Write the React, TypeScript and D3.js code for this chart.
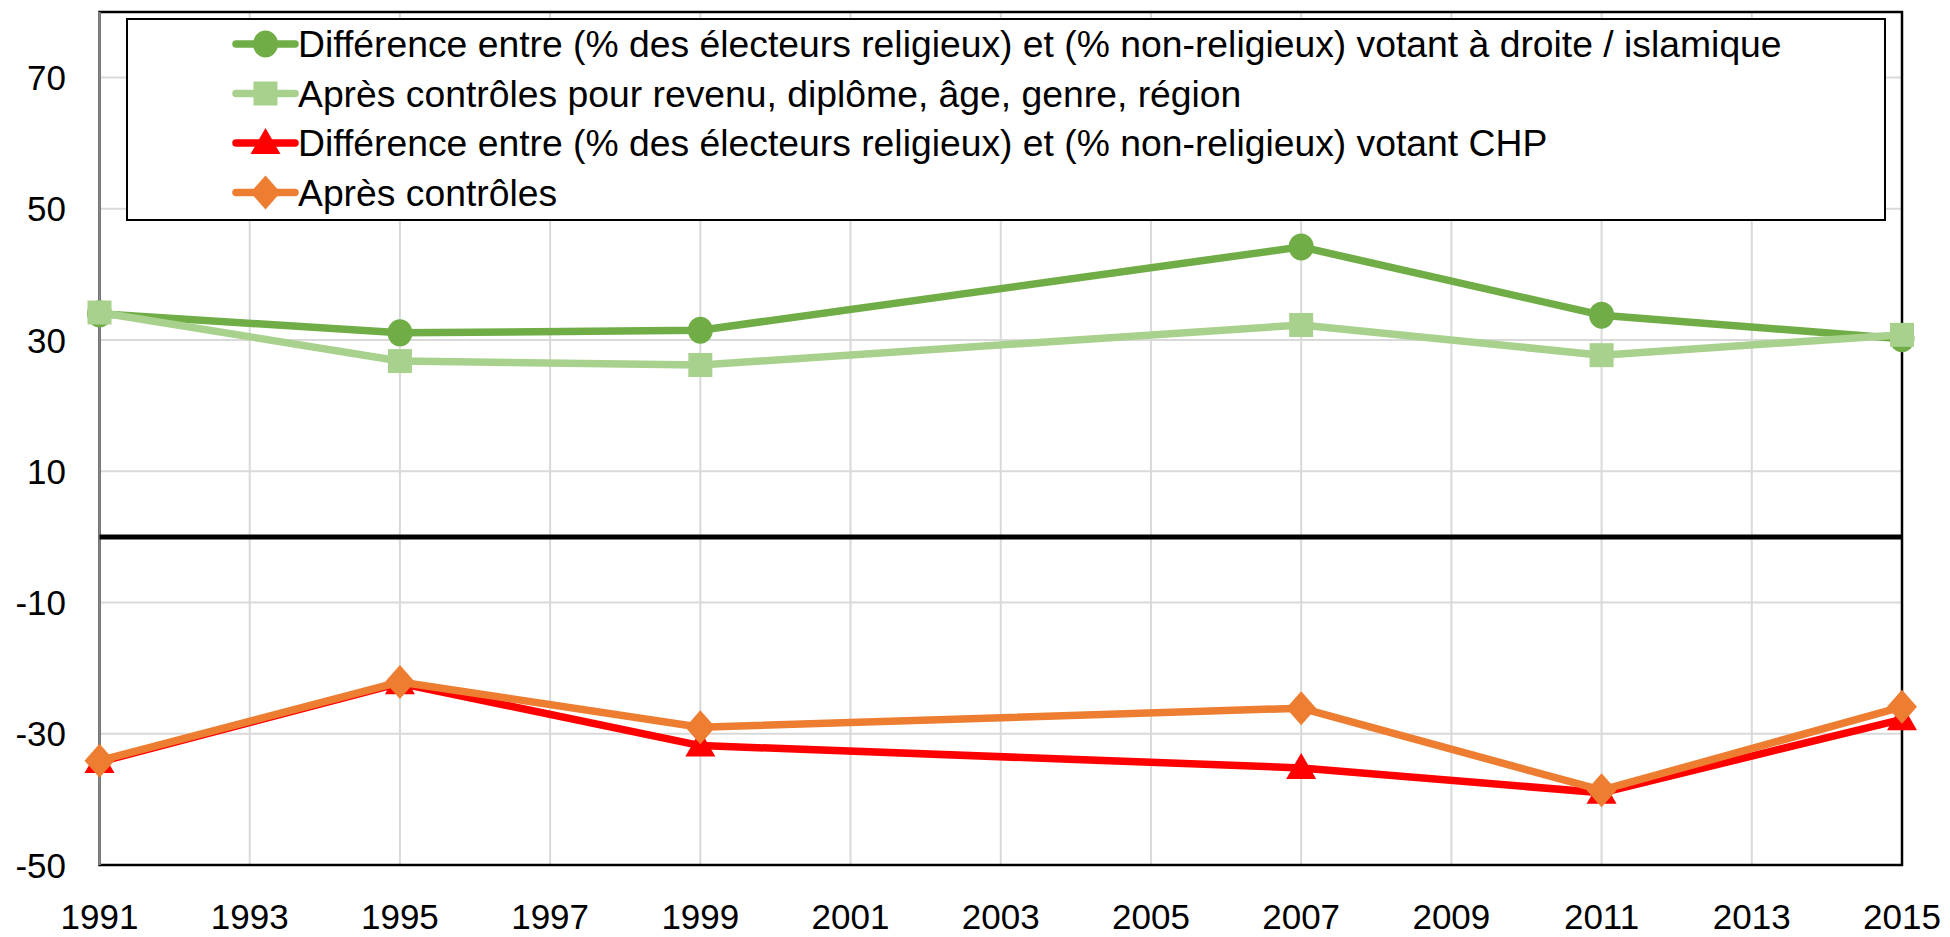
import React from "react";
import * as d3 from "d3";

const years = [1991, 1995, 1999, 2007, 2011, 2015];
const rightIslamic = [34.0, 31.1, 31.5, 44.2, 33.8, 30.2];
const rightIslamicCtrl = [34.2, 26.8, 26.2, 32.3, 27.7, 30.8];
const chp = [-34.3, -22.3, -31.8, -35.2, -39.0, -27.8];
const chpCtrl = [-34.1, -22.1, -29.0, -26.1, -38.6, -25.9];
const yTicks = [-50, -30, -10, 10, 30, 50, 70];
const xTicks = [1991, 1993, 1995, 1997, 1999, 2001, 2003, 2005, 2007, 2009, 2011, 2013, 2015];
const labels = [
  "Différence entre (% des électeurs religieux) et (% non-religieux) votant à droite / islamique",
  "Après contrôles pour revenu, diplôme, âge, genre, région",
  "Différence entre (% des électeurs religieux) et (% non-religieux) votant CHP",
  "Après contrôles",
];

const W = 1950, H = 937;
const X0 = 99.5, X1 = 1902, Y0 = 12, Y1 = 865;
const FONT = "'Liberation Sans', Arial, sans-serif";

type Shape = "circle" | "square" | "triangle" | "diamond";
const seriesDefs: { values: number[]; color: string; shape: Shape }[] = [
  { values: rightIslamic, color: "#70AD47", shape: "circle" },
  { values: rightIslamicCtrl, color: "#A9D18E", shape: "square" },
  { values: chp, color: "#FF0000", shape: "triangle" },
  { values: chpCtrl, color: "#ED7D31", shape: "diamond" },
];

function Marker({ shape, cx, cy, color }: { shape: Shape; cx: number; cy: number; color: string }) {
  if (shape === "circle") return <ellipse cx={cx} cy={cy} rx={12.5} ry={13.5} fill={color} />;
  if (shape === "square") return <rect x={cx - 12} y={cy - 12} width={24} height={24} fill={color} />;
  if (shape === "triangle")
    return <path d={`M${cx},${cy - 15} L${cx + 15},${cy + 11} L${cx - 15},${cy + 11} Z`} fill={color} />;
  return <path d={`M${cx},${cy - 17} L${cx + 15},${cy} L${cx},${cy + 17} L${cx - 15},${cy} Z`} fill={color} />;
}

export default function App() {
  const x = d3.scaleLinear().domain([1991, 2015]).range([X0, X1]);
  const y = d3.scaleLinear().domain([-50, 80]).range([Y1, Y0]);
  const line = d3
    .line<[number, number]>()
    .x((d) => x(d[0]))
    .y((d) => y(d[1]));

  const legX = 127, legY = 19, legW = 1885 - 127, legH = 201;
  const legRow = (i: number) => 44 + i * 49.5;

  return (
    <svg
      width={W}
      height={H}
      style={{ position: "absolute", left: 0, top: 0, background: "#fff" }}
      fontFamily={FONT}
    >
      <rect x={0} y={0} width={W} height={H} fill="#fff" />
      {/* grid */}
      {xTicks.map((t) => (
        <line key={"gx" + t} x1={x(t)} x2={x(t)} y1={Y0} y2={Y1} stroke="#D9D9D9" strokeWidth={2} />
      ))}
      {yTicks.map((t) => (
        <line key={"gy" + t} x1={X0} x2={X1} y1={y(t)} y2={y(t)} stroke="#D9D9D9" strokeWidth={2} />
      ))}
      {/* plot border */}
      <rect x={X0} y={Y0} width={X1 - X0} height={Y1 - Y0} fill="none" stroke="#000" strokeWidth={2.5} />
      <line x1={X0} x2={X0} y1={Y0} y2={Y1} stroke="#898989" strokeWidth={2.5} />
      {/* zero line */}
      <line x1={X0} x2={X1} y1={y(0)} y2={y(0)} stroke="#000" strokeWidth={5} />
      {/* y labels */}
      {yTicks.map((t) => (
        <text key={"yl" + t} x={66} y={y(t)} dy="0.36em" textAnchor="end" fontSize={35} fill="#000">
          {t}
        </text>
      ))}
      {/* x labels */}
      {xTicks.map((t) => (
        <text key={"xl" + t} x={x(t)} y={929} textAnchor="middle" fontSize={35} fill="#000">
          {t}
        </text>
      ))}
      {/* series */}
      {seriesDefs.map((s, si) => {
        const pts: [number, number][] = years.map((yr, i) => [yr, s.values[i]]);
        return (
          <g key={"s" + si}>
            <path d={line(pts) || ""} fill="none" stroke={s.color} strokeWidth={7.5} strokeLinejoin="round" />
            {pts.map((p, i) => (
              <Marker key={i} shape={s.shape} cx={x(p[0])} cy={y(p[1])} color={s.color} />
            ))}
          </g>
        );
      })}
      {/* legend */}
      <rect x={legX} y={legY} width={legW} height={legH} fill="#fff" stroke="#000" strokeWidth={2} />
      {seriesDefs.map((s, i) => (
        <g key={"lg" + i}>
          <line x1={236} x2={295} y1={legRow(i)} y2={legRow(i)} stroke={s.color} strokeWidth={7.5} strokeLinecap="round" />
          <Marker shape={s.shape} cx={265.5} cy={legRow(i)} color={s.color} />
          <text x={298} y={legRow(i)} dy="0.35em" fontSize={37.3} fill="#000">
            {labels[i]}
          </text>
        </g>
      ))}
    </svg>
  );
}
